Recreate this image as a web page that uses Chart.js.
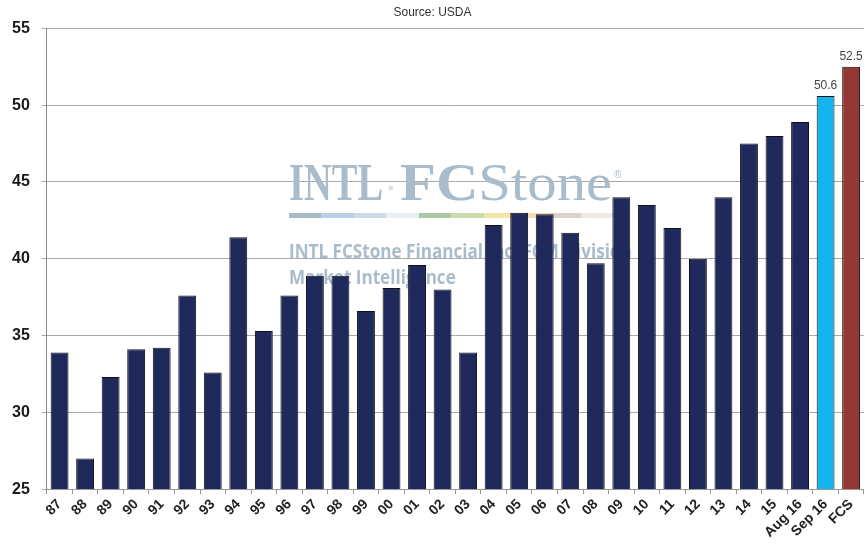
<!DOCTYPE html>
<html>
<head>
<meta charset="utf-8">
<script src="https://cdn.jsdelivr.net/npm/chart.js@4"></script>
<style>
html,body{margin:0;padding:0;background:#fff;}
#wrap{width:865px;height:547px;position:relative;}
</style>
</head>
<body>
<div id="wrap"><canvas id="c" width="865" height="547"></canvas></div>
<script>
const categories = ["87","88","89","90","91","92","93","94","95","96","97","98","99","00","01","02","03","04","05","06","07","08","09","10","11","12","13","14","15","Aug 16","Sep 16","FCS"];
const yields = [33.9,27.0,32.3,34.1,34.2,37.6,32.6,41.4,35.3,37.6,38.9,38.9,36.6,38.1,39.6,38.0,33.9,42.2,43.0,42.9,41.7,39.7,44.0,43.5,42.0,40.0,44.0,47.5,48.0,48.9,50.6,52.5];
const labelledIndices = [30,31];
const yTicks = [25,30,35,40,45,50,55];
const subtitleText = "Source: USDA";

const barColors = categories.map((c,i)=> c==="Sep 16" ? "#16b4ee" : (c==="FCS" ? "#953833" : "#1f295c"));

const watermark = {
  id:'watermark',
  beforeDatasetsDraw(chart){
    const ctx = chart.ctx;
    ctx.save();
    ctx.fillStyle = "#a9bccb";
    ctx.textBaseline = "alphabetic";
    ctx.save();
    ctx.translate(289, 200);
    ctx.scale(0.74, 1);
    ctx.font = "bold 52px 'Liberation Serif', serif";
    ctx.fillText("INTL", 0, 0);
    ctx.restore();
    ctx.save();
    ctx.translate(400, 200);
    ctx.scale(1.13, 1);
    ctx.font = "bold 52px 'Liberation Serif', serif";
    ctx.fillText("FC", 0, 0);
    const fcw = ctx.measureText("FC").width;
    ctx.font = "52px 'Liberation Serif', serif";
    ctx.fillText("Stone", fcw, 0);
    ctx.restore();
    ctx.fillStyle = "#d7dee4";
    ctx.fillRect(389, 186, 4, 4);
    ctx.fillStyle = "#a9bccb";
    ctx.font = "10px 'Liberation Sans', sans-serif";
    ctx.fillText("®", 614, 178);
    const stripe = ["#a9bac7","#b5d1e6","#cbdae4","#e9eff2","#abc9a4","#c9dcad","#f2e6a8","#f6dbb6","#dbd2cb","#efebe2"];
    const sx = 289, sw = 32.5;
    stripe.forEach((col,i)=>{ ctx.fillStyle = col; ctx.fillRect(sx+i*sw, 213, sw, 5); });
    ctx.fillStyle = "#a9bccb";
    ctx.save();
    ctx.translate(289, 0);
    ctx.scale(0.9, 1);
    ctx.font = "bold 19px 'Open Sans', sans-serif";
    ctx.fillText("INTL FCStone Financial Inc. FCM Division", 0, 258);
    ctx.fillText("Market Intelligence", 0, 284);
    ctx.restore();
    ctx.restore();
  }
};

const valueLabels = {
  id:'valueLabels',
  afterDatasetsDraw(chart){
    const ctx = chart.ctx;
    const meta = chart.getDatasetMeta(0);
    ctx.save();
    ctx.fillStyle = "#444";
    ctx.font = "12px 'Liberation Sans', Arial, sans-serif";
    ctx.textAlign = "center";
    ctx.textBaseline = "bottom";
    labelledIndices.forEach(i=>{
      const el = meta.data[i];
      ctx.fillText(yields[i].toFixed(1), el.x, el.y - 4);
    });
    ctx.restore();
  }
};

new Chart(document.getElementById('c'), {
  type:'bar',
  data:{
    labels:categories,
    datasets:[{
      data:yields,
      backgroundColor:barColors,
      borderColor:"#111",
      borderWidth:1,
      categoryPercentage:1.0,
      barPercentage:0.7
    }]
  },
  options:{
    responsive:false,
    animation:false,
    devicePixelRatio:1,
    layout:{padding:{left:0,right:0,top:0,bottom:4}},
    plugins:{
      legend:{display:false},
      tooltip:{enabled:false},
      title:{display:false},
      subtitle:{display:true,text:subtitleText,color:"#333",font:{family:"'Liberation Sans', Arial, sans-serif",size:12},padding:{top:5,bottom:9}}
    },
    scales:{
      x:{
        offset:true,
        grid:{display:true,drawOnChartArea:false,offset:true,tickLength:5,color:"#999"},
        border:{display:true,color:"#999"},
        ticks:{minRotation:45,maxRotation:45,autoSkip:false,color:"#222",font:{family:"'Liberation Sans', Arial, sans-serif",size:14,weight:"bold"},padding:2}
      },
      y:{
        min:25,max:55,
        afterBuildTicks(axis){ axis.ticks = yTicks.map(v=>({value:v})); },
        grid:{color:"#aaa",tickLength:5},
        border:{display:true,color:"#888"},
        ticks:{color:"#1a1a1a",padding:12,font:{family:"'Liberation Sans', Arial, sans-serif",size:16,weight:"bold"}}
      }
    }
  },
  plugins:[watermark,valueLabels]
});
</script>
</body>
</html>
